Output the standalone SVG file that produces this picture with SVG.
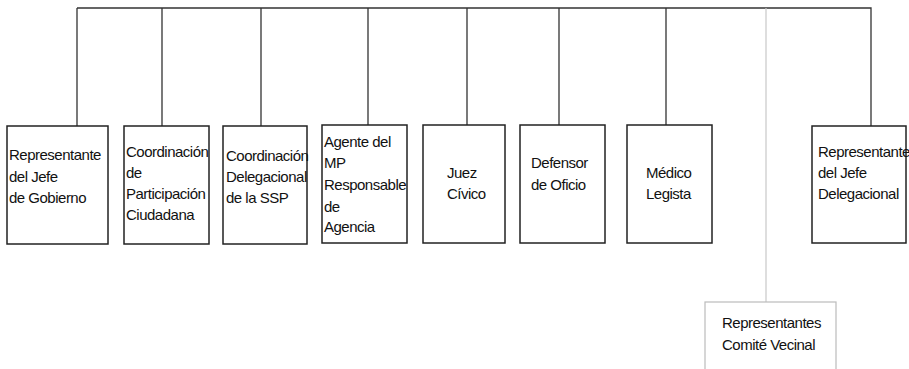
<svg xmlns="http://www.w3.org/2000/svg" width="909" height="369" viewBox="0 0 909 369">
<style>
.box{fill:#fff;stroke:#222;stroke-width:1.5}
.lite{fill:#fff;stroke:#bbb;stroke-width:1.2}
.ln{fill:none;stroke:#333;stroke-width:1.3}
.gl{fill:none;stroke:#c8c8c8;stroke-width:1.2}
text{font-family:"Liberation Sans",Arial,sans-serif;font-size:15px;letter-spacing:-0.5px;fill:#111}
</style>
<rect width="909" height="369" fill="#fff"/>
<g id="connectors">
<path class="ln" d="M77,8 H871 V126"/>
<path class="ln" d="M77,8 V126 M162,8 V126 M261,8 V126 M368,8 V125 M467,8 V125 M559,8 V125 M666,8 V125"/>
<path class="gl" d="M766,8 V302"/>
</g>
<g id="n1"><rect class="box" x="7" y="126" width="101" height="118"/>
<text x="9" y="160">Representante</text><text x="9" y="182">del Jefe</text><text x="9" y="203">de Gobierno</text></g>
<g id="n2"><rect class="box" x="124" y="126" width="85" height="118"/>
<text x="126" y="157">Coordinación</text><text x="126" y="178">de</text><text x="126" y="199">Participación</text><text x="126" y="220">Ciudadana</text></g>
<g id="n3"><rect class="box" x="223" y="126" width="84" height="118"/>
<text x="226" y="161">Coordinación</text><text x="226" y="182">Delegacional</text><text x="226" y="203">de la SSP</text></g>
<g id="n4"><rect class="box" x="322" y="125" width="85" height="118"/>
<text x="324" y="147">Agente del</text><text x="324" y="168">MP</text><text x="324" y="190">Responsable</text><text x="324" y="212">de</text><text x="324" y="232">Agencia</text></g>
<g id="n5"><rect class="box" x="423" y="125" width="82" height="118"/>
<text x="447" y="178">Juez</text><text x="447" y="199">Cívico</text></g>
<g id="n6"><rect class="box" x="520" y="125" width="85" height="118"/>
<text x="531" y="168">Defensor</text><text x="531" y="190">de Oficio</text></g>
<g id="n7"><rect class="box" x="627" y="125" width="85" height="118"/>
<text x="646" y="178">Médico</text><text x="646" y="199">Legista</text></g>
<g id="n8"><rect class="box" x="812" y="126" width="94" height="117"/>
<text x="818" y="157">Representante</text><text x="818" y="178">del Jefe</text><text x="818" y="199">Delegacional</text></g>
<g id="n9"><rect class="lite" x="705" y="302" width="131" height="80"/>
<text x="722" y="328">Representantes</text><text x="722" y="350">Comité Vecinal</text></g>
</svg>
